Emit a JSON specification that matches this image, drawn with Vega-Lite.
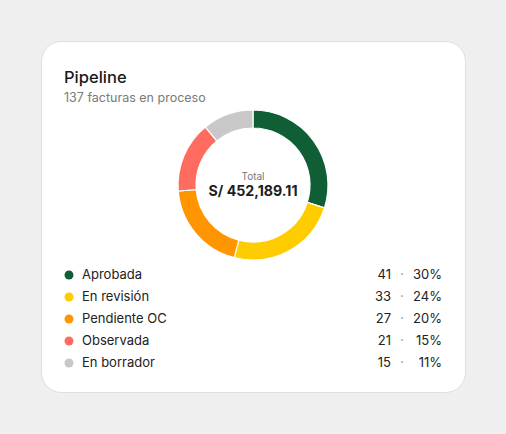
{
  "$schema": "https://vega.github.io/schema/vega-lite/v6.json",
  "autosize": "none",
  "width": 424,
  "height": 351,
  "padding": {"left": 41, "top": 41, "right": 41, "bottom": 42},
  "background": "#efefef",
  "config": {
    "view": {"fill": "white", "stroke": "#dedede", "strokeWidth": 1, "cornerRadius": 20},
    "font": "Inter",
    "text": {"font": "Inter"}
  },
  "title": {
    "text": "Pipeline",
    "subtitle": "137 facturas en proceso",
    "anchor": "start",
    "frame": "group",
    "orient": "top",
    "offset": -63,
    "dx": 23,
    "font": "Inter",
    "fontSize": 16.5,
    "fontWeight": 500,
    "color": "#1a1a1a",
    "subtitleFont": "Inter",
    "subtitleFontSize": 12.5,
    "subtitleColor": "#7a7a7a",
    "subtitlePadding": 5
  },
  "data": {
    "values": [
      {"estado": "Aprobada", "orden": 1, "facturas": 41, "pct": 0.30},
      {"estado": "En revisión", "orden": 2, "facturas": 33, "pct": 0.24},
      {"estado": "Pendiente OC", "orden": 3, "facturas": 27, "pct": 0.20},
      {"estado": "Observada", "orden": 4, "facturas": 21, "pct": 0.15},
      {"estado": "En borrador", "orden": 5, "facturas": 15, "pct": 0.11}
    ]
  },
  "layer": [
    {
      "mark": {"type": "arc", "outerRadius": 75, "innerRadius": 57, "x": 212, "y": 144, "stroke": "white", "strokeWidth": 1.2},
      "encoding": {
        "theta": {"field": "facturas", "type": "quantitative", "stack": true},
        "order": {"field": "orden", "type": "quantitative"},
        "color": {
          "field": "estado",
          "type": "nominal",
          "legend": null,
          "scale": {
            "domain": ["Aprobada", "En revisión", "Pendiente OC", "Observada", "En borrador"],
            "range": ["#0f5e35", "#ffcc00", "#ff9500", "#ff6b5e", "#c8c8c8"]
          }
        }
      }
    },
    {
      "data": {"values": [{"etiqueta": "Total", "monto": "S/ 452,189.11"}]},
      "layer": [
        {
          "mark": {"type": "text", "x": 212, "y": 135.5, "align": "center", "baseline": "middle", "fontSize": 10, "color": "#777777"},
          "encoding": {"text": {"field": "etiqueta"}}
        },
        {
          "mark": {"type": "text", "x": 212, "y": 150.5, "align": "center", "baseline": "middle", "fontSize": 14.2, "fontWeight": 700, "color": "#1e1e1e"},
          "encoding": {"text": {"field": "monto"}}
        }
      ]
    },
    {
      "mark": {"type": "circle", "size": 80, "opacity": 1, "x": 28},
      "encoding": {
        "y": {"field": "estado", "type": "ordinal", "sort": {"field": "orden"}, "axis": null,
              "scale": {"type": "point", "range": [234, 322], "padding": 0}},
        "color": {"field": "estado", "type": "nominal", "legend": null}
      }
    },
    {
      "mark": {"type": "text", "x": 41, "align": "left", "baseline": "middle", "fontSize": 13, "color": "#222222"},
      "encoding": {
        "y": {"field": "estado", "type": "ordinal", "sort": {"field": "orden"}},
        "text": {"field": "estado"}
      }
    },
    {
      "mark": {"type": "text", "x": 350, "align": "right", "baseline": "middle", "fontSize": 13, "color": "#222222"},
      "encoding": {
        "y": {"field": "estado", "type": "ordinal", "sort": {"field": "orden"}},
        "text": {"field": "facturas"}
      }
    },
    {
      "mark": {"type": "text", "x": 361, "align": "center", "baseline": "middle", "fontSize": 14, "color": "#999999", "text": "·"},
      "encoding": {
        "y": {"field": "estado", "type": "ordinal", "sort": {"field": "orden"}}
      }
    },
    {
      "mark": {"type": "text", "x": 401, "align": "right", "baseline": "middle", "fontSize": 13, "color": "#222222"},
      "encoding": {
        "y": {"field": "estado", "type": "ordinal", "sort": {"field": "orden"}},
        "text": {"field": "pct", "type": "quantitative", "format": ".0%"}
      }
    }
  ]
}
